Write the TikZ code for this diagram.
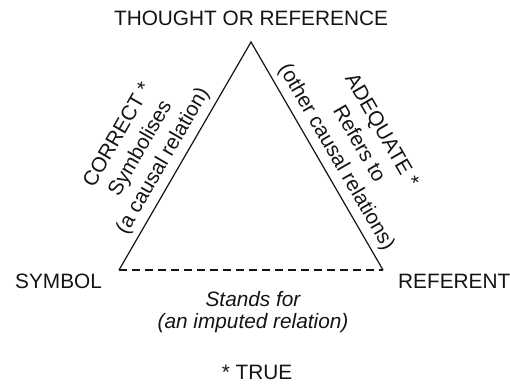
\documentclass[tikz,border=0pt]{standalone}
\usepackage{fontspec}
\setmainfont{Liberation Sans}
\usetikzlibrary{calc}
\definecolor{Ink}{RGB}{ 20, 20, 20 }
\newcommand{\Canvas}{
\useasboundingbox (0,0) rectangle (510,384);
\coordinate (apex) at (251,342);
\coordinate (symbol-corner) at (119,114);
\coordinate (referent-corner) at (383,114);
}

\begin{document}
\begin{tikzpicture}[x=1bp, y=1bp,
    label-text/.style={text=Ink, inner sep=0pt, font=\fontsize{20.8bp}{22bp}\selectfont},
    side-text/.style={text=Ink, inner sep=6bp, align=center, sloped, above,
        font=\fontsize{20.8bp}{26bp}\selectfont},
    edge/.style={Ink, line width=1.2bp}]
\Canvas

\draw[edge, line join=miter] (symbol-corner) -- (apex) -- (referent-corner);
\draw[edge, dash pattern=on 8bp off 5bp] (symbol-corner) -- (referent-corner);

\node[label-text, anchor=base] (thought) at (251,359) {THOUGHT OR REFERENCE};
\node[label-text, anchor=base west] (symbol) at (15,96) {SYMBOL};
\node[label-text, anchor=base west] (referent) at (398,96) {REFERENT};

\path (symbol-corner) -- node[side-text, pos=0.44] (symbolises)
    {CORRECT *\\ Symbolises\\ (a causal relation)} (apex);
\path (apex) -- node[side-text, pos=0.54] (refers)
    {ADEQUATE *\\ Refers to\\ (other causal relations)} (referent-corner);

% base of a two-line node sits on its last line
\node[label-text, anchor=base, align=center, font=\fontsize{20.8bp}{22bp}\selectfont\itshape]
    (stands) at (253,56) {Stands for\\ (an imputed relation)};

\node[label-text, anchor=base] (true) at (257,5) {* TRUE};
\end{tikzpicture}
\end{document}
